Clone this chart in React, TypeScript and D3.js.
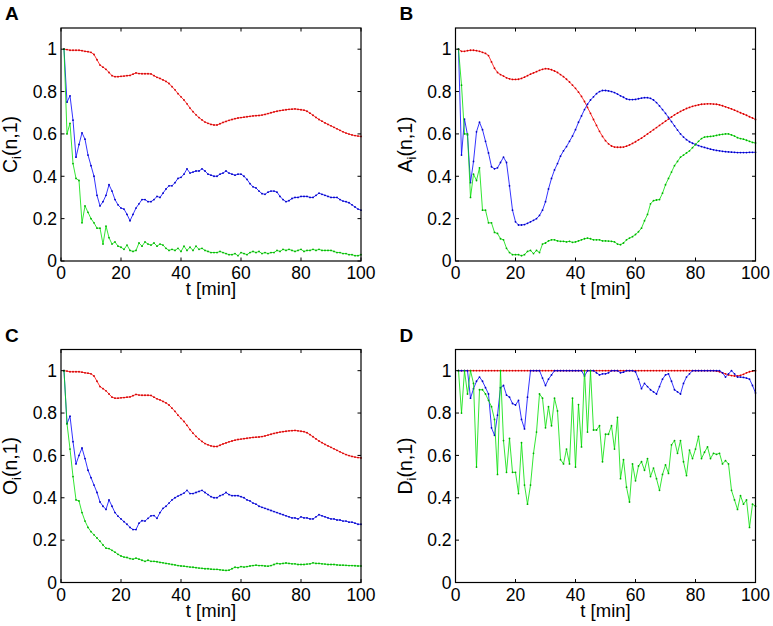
import React from "react";
import * as d3 from "d3";

// time points (minutes)
const minutes = d3.range(1, 101);

// panel A: C_i(n,1)
const cRed = [
  1.0, 0.998, 0.995, 0.995, 0.995, 0.995, 0.993, 0.99, 0.988, 0.985,
  0.975, 0.95, 0.925, 0.915, 0.905, 0.89, 0.875, 0.87, 0.87, 0.872,
  0.873, 0.875, 0.876, 0.882, 0.888, 0.885, 0.884, 0.884, 0.884, 0.883,
  0.875, 0.867, 0.862, 0.855, 0.848, 0.838, 0.823, 0.808, 0.79, 0.775,
  0.76, 0.742, 0.722, 0.705, 0.69, 0.677, 0.666, 0.656, 0.65, 0.645,
  0.642, 0.642, 0.648, 0.654, 0.659, 0.664, 0.668, 0.672, 0.675, 0.677,
  0.679, 0.681, 0.683, 0.685, 0.686, 0.687, 0.689, 0.692, 0.696, 0.7,
  0.704, 0.707, 0.71, 0.712, 0.714, 0.716, 0.717, 0.718, 0.716, 0.714,
  0.712, 0.707, 0.698, 0.688, 0.678, 0.668, 0.66, 0.652, 0.645, 0.638,
  0.631, 0.624, 0.617, 0.61, 0.604, 0.599, 0.595, 0.592, 0.59, 0.588,
];
const cBlue = [
  1.0, 0.75, 0.78, 0.665, 0.49, 0.55, 0.605, 0.575, 0.5, 0.45,
  0.4, 0.31, 0.26, 0.28, 0.31, 0.36, 0.33, 0.29, 0.265, 0.25,
  0.245, 0.22, 0.19, 0.22, 0.25, 0.27, 0.29, 0.29, 0.28, 0.28,
  0.29, 0.305, 0.3, 0.32, 0.34, 0.355, 0.355, 0.37, 0.39, 0.395,
  0.41, 0.435, 0.415, 0.42, 0.425, 0.425, 0.435, 0.425, 0.41, 0.405,
  0.4, 0.4, 0.41, 0.415, 0.425, 0.415, 0.41, 0.405, 0.41, 0.41,
  0.4, 0.385, 0.365, 0.35, 0.345, 0.33, 0.318, 0.315, 0.325, 0.33,
  0.33, 0.325, 0.305, 0.29, 0.28, 0.285, 0.295, 0.3, 0.3, 0.305,
  0.305, 0.305, 0.3, 0.3, 0.31, 0.32, 0.315, 0.31, 0.305, 0.3,
  0.3, 0.3, 0.29, 0.283, 0.28, 0.275, 0.265, 0.255, 0.245, 0.24,
];
const cGreen = [
  1.0, 0.6, 0.65, 0.46, 0.39, 0.38, 0.18, 0.26, 0.23, 0.2,
  0.18, 0.155, 0.155, 0.08, 0.165, 0.11, 0.08, 0.09, 0.07, 0.065,
  0.055, 0.075, 0.05, 0.045, 0.05, 0.085, 0.07, 0.09, 0.08, 0.075,
  0.085, 0.07, 0.08, 0.075, 0.06, 0.05, 0.055, 0.05, 0.06, 0.045,
  0.07, 0.05, 0.065, 0.05, 0.07, 0.055, 0.06, 0.05, 0.045, 0.04,
  0.04, 0.04, 0.045, 0.04, 0.035, 0.03, 0.03, 0.035, 0.025, 0.04,
  0.035, 0.03, 0.04, 0.045, 0.04, 0.045, 0.035, 0.04, 0.035, 0.04,
  0.04, 0.05, 0.045, 0.055, 0.05, 0.055, 0.05, 0.045, 0.05, 0.055,
  0.045, 0.05, 0.05, 0.055, 0.05, 0.055, 0.05, 0.05, 0.05, 0.05,
  0.045, 0.04, 0.04, 0.035, 0.035, 0.03, 0.03, 0.025, 0.025, 0.03,
];

// panel B: A_i(n,1)
const aRed = [
  1.0, 0.99, 0.99, 0.993, 0.995, 0.995, 0.993, 0.99, 0.985, 0.98,
  0.97, 0.94, 0.91, 0.89, 0.88, 0.873, 0.865, 0.86, 0.857, 0.857,
  0.858, 0.862, 0.868, 0.875, 0.882, 0.888, 0.894, 0.9, 0.905, 0.908,
  0.907, 0.903, 0.897, 0.89, 0.88, 0.87, 0.858, 0.845, 0.83, 0.815,
  0.797, 0.777, 0.753, 0.725, 0.697, 0.668, 0.64, 0.612, 0.588, 0.568,
  0.553, 0.543, 0.538, 0.537, 0.537, 0.538, 0.542, 0.548, 0.555, 0.563,
  0.572, 0.58, 0.59, 0.6, 0.61, 0.62, 0.63, 0.64, 0.65, 0.66,
  0.67, 0.68, 0.69, 0.698, 0.706, 0.713, 0.72, 0.725, 0.73, 0.734,
  0.737, 0.74, 0.741, 0.742, 0.742, 0.741, 0.74, 0.737, 0.733, 0.728,
  0.723, 0.718, 0.712, 0.706, 0.7, 0.694, 0.688, 0.681, 0.675, 0.668,
];
const aBlue = [
  1.0, 0.5, 0.67, 0.595, 0.37, 0.47, 0.61, 0.655, 0.62, 0.565,
  0.51, 0.445, 0.435, 0.44, 0.465, 0.49, 0.465, 0.355, 0.24, 0.185,
  0.17, 0.17, 0.172, 0.178, 0.185, 0.192, 0.2, 0.215, 0.24, 0.28,
  0.34, 0.39, 0.43, 0.46, 0.495, 0.52, 0.54, 0.565, 0.59, 0.62,
  0.655, 0.685, 0.715, 0.74, 0.76, 0.775, 0.79, 0.8, 0.805, 0.805,
  0.803, 0.8, 0.795, 0.788, 0.78, 0.773, 0.765, 0.762, 0.762, 0.763,
  0.766, 0.769, 0.771, 0.771, 0.768, 0.76, 0.748, 0.732, 0.715, 0.697,
  0.678, 0.658, 0.638, 0.618, 0.6, 0.585, 0.573, 0.563, 0.556, 0.55,
  0.545, 0.54, 0.536, 0.532, 0.528, 0.525, 0.522, 0.52, 0.518, 0.516,
  0.515, 0.514, 0.513, 0.512, 0.512, 0.512, 0.512, 0.513, 0.513, 0.513,
];
const aGreen = [
  1.0, 0.83, 0.6, 0.6, 0.3, 0.41, 0.38, 0.44, 0.24, 0.24,
  0.18, 0.18, 0.135, 0.13, 0.105, 0.1, 0.06, 0.04, 0.03, 0.03,
  0.03, 0.025, 0.03, 0.045, 0.05, 0.035, 0.05, 0.04, 0.08, 0.085,
  0.095, 0.1, 0.1, 0.095, 0.093, 0.093, 0.09, 0.093, 0.088, 0.09,
  0.095, 0.1, 0.105, 0.108, 0.105, 0.1, 0.1, 0.1, 0.095, 0.095,
  0.094, 0.093, 0.09, 0.08, 0.077, 0.085, 0.1, 0.108, 0.115, 0.125,
  0.138, 0.155, 0.19, 0.22, 0.27, 0.285, 0.288, 0.29, 0.32, 0.36,
  0.39, 0.42, 0.45, 0.47, 0.49, 0.5, 0.51, 0.52, 0.535, 0.55,
  0.565, 0.578, 0.585, 0.587, 0.588, 0.59, 0.593, 0.596, 0.598, 0.6,
  0.6, 0.595, 0.59, 0.582, 0.578, 0.575, 0.57, 0.565, 0.56, 0.557,
];

// panel C: O_i(n,1)
const oRed = cRed;
const oBlue = [
  1.0, 0.75, 0.785, 0.665, 0.56, 0.6, 0.635, 0.585, 0.53, 0.495,
  0.46, 0.425, 0.38, 0.36, 0.345, 0.39, 0.36, 0.33, 0.313, 0.3,
  0.287, 0.275, 0.26, 0.25, 0.25, 0.28, 0.292, 0.29, 0.303, 0.315,
  0.316, 0.303, 0.33, 0.35, 0.36, 0.375, 0.39, 0.4, 0.408, 0.415,
  0.422, 0.435, 0.42, 0.42, 0.425, 0.43, 0.435, 0.425, 0.415, 0.405,
  0.4, 0.4, 0.41, 0.415, 0.425, 0.415, 0.41, 0.41, 0.41, 0.405,
  0.4, 0.39, 0.385, 0.375, 0.37, 0.36, 0.355, 0.35, 0.345, 0.34,
  0.335, 0.33, 0.325, 0.32, 0.315, 0.31, 0.305, 0.305, 0.3, 0.31,
  0.305, 0.305, 0.3, 0.3, 0.31, 0.32, 0.315, 0.31, 0.305, 0.3,
  0.3, 0.295, 0.295, 0.29, 0.29, 0.285, 0.285, 0.28, 0.275, 0.275,
];
const oGreen = [
  1.0, 0.75, 0.63, 0.5, 0.39, 0.385, 0.33, 0.29, 0.26, 0.24,
  0.225, 0.21, 0.195, 0.177, 0.162, 0.16, 0.152, 0.143, 0.133, 0.125,
  0.12, 0.118, 0.113, 0.11, 0.115, 0.11, 0.105, 0.1, 0.105, 0.1,
  0.1, 0.098, 0.095, 0.093, 0.09, 0.088, 0.085, 0.083, 0.08, 0.078,
  0.077, 0.075, 0.073, 0.072, 0.07, 0.068, 0.067, 0.065, 0.065, 0.063,
  0.062, 0.062, 0.06, 0.058, 0.057, 0.058, 0.065, 0.072, 0.07, 0.075,
  0.073, 0.075, 0.078, 0.08, 0.082, 0.08, 0.08, 0.078, 0.077, 0.08,
  0.085, 0.09, 0.088, 0.09, 0.092, 0.09, 0.088, 0.088, 0.085, 0.085,
  0.085, 0.087, 0.088, 0.093, 0.09, 0.09, 0.088, 0.087, 0.085, 0.085,
  0.085, 0.083, 0.082, 0.082, 0.081, 0.08, 0.08, 0.079, 0.078, 0.078,
];

// panel D: D_i(n,1)
const dRed = [
  1, 1, 1, 1, 1, 1, 1, 1, 1, 1,
  1, 1, 1, 1, 1, 1, 1, 1, 1, 1,
  1, 1, 1, 1, 1, 1, 1, 1, 1, 1,
  1, 1, 1, 1, 1, 1, 1, 1, 1, 1,
  1, 1, 1, 1, 1, 1, 1, 1, 1, 1,
  1, 1, 1, 1, 1, 1, 1, 1, 1, 1,
  1, 1, 1, 1, 1, 1, 1, 1, 1, 1,
  1, 1, 1, 1, 1, 1, 1, 1, 1, 1,
  1, 1, 1, 1, 1, 1, 0.998, 0.995, 0.99, 0.985,
  0.98, 0.977, 0.975, 0.975, 0.978, 0.983, 0.99, 0.995, 0.998, 1.0,
];
const dBlue = [
  1, 1, 1, 1, 0.87, 0.915, 0.95, 0.97, 0.95, 0.92,
  0.89, 0.73, 0.695, 0.79, 0.92, 0.93, 0.885, 0.875, 0.845, 0.838,
  0.86, 0.77, 0.725, 0.875, 1, 1, 1, 1, 0.965, 0.93,
  0.96, 0.98, 1, 1, 1, 1, 1, 1, 1, 1,
  1, 1, 0.975, 1, 1, 1, 0.99, 0.98, 0.985, 0.985,
  0.99, 1, 1, 1, 0.99, 0.993, 1, 1, 1, 0.995,
  0.96, 0.915, 0.94, 0.925, 0.91, 0.9, 0.89, 0.925, 0.96, 0.98,
  0.985, 0.95, 0.91, 0.9, 0.89, 0.94, 0.97, 0.985, 1, 1,
  1, 1, 1, 1, 1, 1, 1, 1, 0.99, 0.97,
  0.985, 1, 0.985, 0.97, 0.97, 0.968, 0.965, 0.96, 0.93, 0.895,
];
const dGreen = [
  1.0, 0.8, 1.0, 0.89, 1.0, 0.94, 0.545, 0.91, 0.91, 0.89,
  0.86, 0.83, 0.77, 0.51, 1.0, 0.67, 0.52, 0.68, 0.52, 0.52,
  0.42, 0.66, 0.46, 0.37, 0.46, 0.61, 0.71, 0.89, 0.87, 0.73,
  0.83, 0.74, 0.87, 0.81, 0.58, 0.56, 0.63, 0.56, 0.87, 0.545,
  0.84, 0.64, 1.0, 0.71, 1.0, 0.72, 0.72, 0.74, 0.57, 0.7,
  0.7, 0.74, 0.63, 0.78, 0.49, 0.58, 0.45, 0.38, 0.56, 0.48,
  0.55, 0.57, 0.53, 0.585, 0.5, 0.54, 0.49, 0.435, 0.51, 0.555,
  0.515, 0.65, 0.67, 0.61, 0.67, 0.57, 0.505, 0.625, 0.585, 0.63,
  0.69, 0.585, 0.615, 0.64, 0.585, 0.61, 0.605, 0.61, 0.56, 0.575,
  0.56, 0.435, 0.39, 0.345, 0.41, 0.37, 0.39, 0.26, 0.37, 0.36,
];

const xTicks = [0, 20, 40, 60, 80, 100];
const yTicks = [0, 0.2, 0.4, 0.6, 0.8, 1];

const panels = [
  { letter: "A", sym: "C", series: [cRed, cBlue, cGreen], left: 61, top: 28 },
  { letter: "B", sym: "A", series: [aRed, aBlue, aGreen], left: 455.5, top: 28 },
  { letter: "C", sym: "O", series: [oRed, oBlue, oGreen], left: 61, top: 349.5 },
  { letter: "D", sym: "D", series: [dRed, dBlue, dGreen], left: 455.5, top: 349.5 },
];

const colors = ["#ff0000", "#0000ff", "#00e000"];
const dotColors = ["#d00000", "#0000c0", "#00b000"];

const plotW = 300;
const plotH = 233;
const font = "Arial, 'Liberation Sans', Helvetica, sans-serif";

const Panel = ({ p }) => {
  const x = d3.scaleLinear().domain([0, 100]).range([p.left, p.left + plotW]);
  const y = d3.scaleLinear().domain([0, 1.1]).range([p.top + plotH, p.top]);
  const line = d3
    .line<number>()
    .x((d, i) => x(minutes[i]))
    .y(d => y(d));
  const tl = 3.5;
  const bottom = p.top + plotH;
  const right = p.left + plotW;

  return (
    <g>
      <text x={p.left - 56} y={p.top - 8} fontFamily={font} fontWeight="bold" fontSize={19}>
        {p.letter}
      </text>
      {p.series.map((s, k) => (
        <g key={k}>
          <path d={line(s)} fill="none" stroke={colors[k]} strokeWidth={0.8} />
          {s.map((v, i) => (
            <circle key={i} cx={x(minutes[i])} cy={y(v)} r={0.9} fill={dotColors[k]} />
          ))}
        </g>
      ))}
      <rect x={p.left} y={p.top} width={plotW} height={plotH} fill="none" stroke="#000" strokeWidth={1.2} />
      {xTicks.map(t => (
        <g key={t}>
          <line x1={x(t)} x2={x(t)} y1={bottom} y2={bottom - tl} stroke="#000" />
          <line x1={x(t)} x2={x(t)} y1={p.top} y2={p.top + tl} stroke="#000" />
          <text x={x(t)} y={bottom + 18} textAnchor="middle" fontFamily={font} fontSize={17.5}>
            {t}
          </text>
        </g>
      ))}
      {yTicks.map(t => (
        <g key={t}>
          <line x1={p.left} x2={p.left + tl} y1={y(t)} y2={y(t)} stroke="#000" />
          <line x1={right} x2={right - tl} y1={y(t)} y2={y(t)} stroke="#000" />
          <text x={p.left - 4} y={y(t)} dy="0.36em" textAnchor="end" fontFamily={font} fontSize={17.5}>
            {t}
          </text>
        </g>
      ))}
      <text x={p.left + plotW / 2} y={bottom + 34} textAnchor="middle" fontFamily={font} fontSize={18.5}>
        t [min]
      </text>
      <text
        transform={`translate(${p.left - 44},${p.top + plotH / 2}) rotate(-90)`}
        textAnchor="middle"
        fontFamily={font}
        fontSize={19.5}
      >
        {p.sym}
        <tspan dy={4} fontSize={13}>i</tspan>
        <tspan dy={-4}>(n,1)</tspan>
      </text>
    </g>
  );
};

export default function App() {
  return (
    <svg
      width={773}
      height={626}
      style={{ position: "absolute", left: 0, top: 0, background: "#fff" }}
    >
      {panels.map(p => (
        <Panel key={p.letter} p={p} />
      ))}
    </svg>
  );
}
